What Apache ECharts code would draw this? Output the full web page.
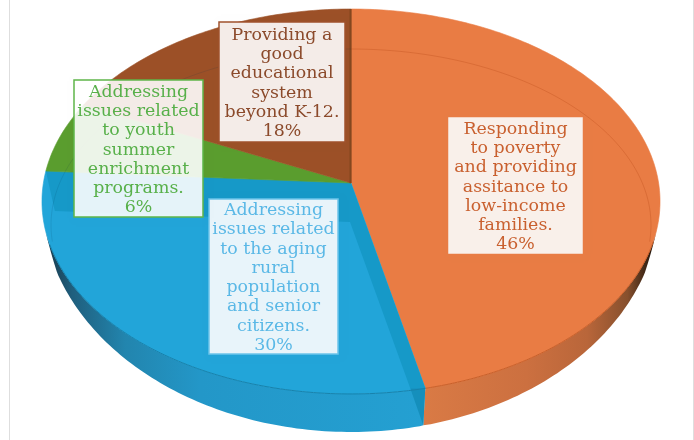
<!DOCTYPE html>
<html><head><meta charset="utf-8">
<style>html,body{margin:0;padding:0;background:#fff}#c{width:694px;height:440px}</style>
<script src="https://cdn.jsdelivr.net/npm/echarts@6/dist/echarts.min.js"></script>
</head><body><div id="c"></div>
<script>
const categories = [
  "Responding\nto poverty\nand providing\nassitance to\nlow-income\nfamilies.",
  "Addressing\nissues related\nto the aging\nrural\npopulation\nand senior\ncitizens.",
  "Addressing\nissues related\nto youth\nsummer\nenrichment\nprograms.",
  "Providing a\ngood\neducational\nsystem\nbeyond K-12."
];
const shares = [46.49, 29.51, 6, 18];

const faceColors = ['#E97C44', '#22A5D9', '#5A9D2E', '#9C5027'];
const textColors = ['#C9602F', '#5AB8E6', '#58B04A', '#8B4A2B'];
const borderColors = ['#F9F0EA', '#6CC4EA', '#5FB54A', '#A0522D'];
const boxFills = ['#F9F0EA', '#E8F4FA', 'rgba(255,255,255,0.89)', '#F4ECE8'];
const labelBoxes = [[449,118,133,135],[209,199,129,155],[74,80,129,137],[219,22,126,120]];

const G = {cx:351, ay:183, A:307.6, B:190.7, k:0.0961, cy:201.5, wall:38/192.5};
function P(t){
  const u=Math.sin(t), v=-Math.cos(t), d=1-G.k*v;
  return [G.cx+G.A*u/d, G.ay+G.B*v/d];
}
function angles(i){
  const total=shares.reduce((a,b)=>a+b,0);
  let s=0; for(let j=0;j<i;j++) s+=shares[j];
  return [s/total*2*Math.PI,(s+shares[i])/total*2*Math.PI];
}
function arc(a0,a1){
  const n=Math.max(8,Math.ceil((a1-a0)*60)), pts=[];
  for(let j=0;j<=n;j++) pts.push(P(a0+(a1-a0)*j/n));
  return pts;
}
function wallDrop(y){
  const d=y-G.cy, s=Math.max(0,Math.min(1,(d-30)/30));
  return d*G.wall*s;
}
function grad(stops,x0,x1){return new echarts.graphic.LinearGradient(x0,0,x1,0,stops,true);}
const wallFills = [
  grad([{offset:0,color:'#D97A45'},{offset:.45,color:'#CC7040'},{offset:.72,color:'#B9663A'},{offset:.9,color:'#87502D'},{offset:1,color:'#2E1D10'}],425,650),
  grad([{offset:0,color:'#1A3F52'},{offset:.06,color:'#1F5F7E'},{offset:.2,color:'#2285AE'},{offset:.4,color:'#2397C8'},{offset:1,color:'#24A0D2'}],50,425)
];

function wallItem(params){
  const i=params.dataIndex, [a0,a1]=angles(i);
  const top=arc(a0,a1).filter(p=>p[1]>=G.cy+25);
  if(top.length<2) return {type:'group',children:[]};
  const seam=P(angles(1)[0]);
  const bottom=top.map(p=>[p[0]-(p[0]===seam[0]?2:0),p[1]+wallDrop(p[1])]).reverse();
  return {type:'group',children:[{type:'polygon',shape:{points:top.concat(bottom)},style:{fill:wallFills[i]||faceColors[i]}}]};
}
function faceItem(params){
  const i=params.dataIndex, [a0,a1]=angles(i), apex=[G.cx,G.ay];
  const outer=arc(a0,a1);
  const children=[{type:'polygon',shape:{points:[apex].concat(outer)},style:{fill:faceColors[i],stroke:faceColors[i],lineWidth:.6}}];
  const front=outer.filter(p=>p[1]>=G.cy+40);
  if(i===0) children.push({type:'polyline',shape:{points:front},style:{fill:'none',stroke:'#C9602A',lineWidth:1}});
  if(i===1){
    const p1=P(a0), p2=P(a1);
    const b=p1[1]+wallDrop(p1[1]);
    children.push({type:'polygon',shape:{points:[p2,apex,p1,[p1[0]-15,p1[1]],[G.cx-1,G.ay+39],[p2[0]+9,p2[1]+40]]},style:{fill:'#1699C8'}});
    children.push({type:'polygon',shape:{points:[p1,[p1[0]-15,p1[1]],[p1[0]-2,b]]},style:{fill:'#158FBC'}});
    children.push({type:'polyline',shape:{points:front},style:{fill:'none',stroke:'#1782AC',lineWidth:1}});
  }
  if(i===3){
    const p=P(a1);
    children.push({type:'line',shape:{x1:p[0]-.5,y1:p[1],x2:G.cx-.5,y2:G.ay},style:{stroke:'#84471F',lineWidth:2}});
  }
  return {type:'group',children};
}
function ringItem(){
  const c=[351,225], a=300, b=176, left=[], right=[];
  for(let j=0;j<=120;j++){
    const t=Math.PI*.97+(Math.PI*1.06)*j/120;
    (j<=60?left:right).push([c[0]+a*Math.cos(t), c[1]+b*Math.sin(t)]);
  }
  right.unshift(left[left.length-1]);
  return {type:'group',children:[
    {type:'polyline',shape:{points:left},style:{fill:'none',stroke:'rgba(0,50,80,0.12)',lineWidth:1}},
    {type:'polyline',shape:{points:right},style:{fill:'none',stroke:'rgba(170,60,10,0.25)',lineWidth:1}}
  ]};
}
function labelItem(params,api){
  const i=params.dataIndex, [x,y,w,h]=labelBoxes[i];
  const text=categories[i]+'\n'+Math.round(api.value(0))+'%';
  return {type:'group',children:[
    {type:'rect',shape:{x,y,width:w,height:h},style:{fill:'rgba(0,0,0,0.01)',shadowBlur:6,shadowColor:'rgba(0,0,0,0.2)',shadowOffsetX:2,shadowOffsetY:1}},
    {type:'rect',shape:{x,y,width:w,height:h},style:{fill:boxFills[i],stroke:borderColors[i],lineWidth:1.5}},
    {type:'text',style:{text,x:x+w/2,y:y+h/2+1.5,align:'center',verticalAlign:'middle',textAlign:'center',textVerticalAlign:'middle',
      font:'17.4px "DejaVu Serif"',lineHeight:19.3,fill:textColors[i]}}
  ]};
}
const data=shares.map((v,i)=>[v,i]);
const chart=echarts.init(document.getElementById('c'),null,{renderer:'canvas'});
chart.setOption({
  animation:false,
  backgroundColor:'#fff',
  graphic:[
    {type:'line',shape:{x1:9.5,y1:0,x2:9.5,y2:440},style:{stroke:'#DEDEDE',lineWidth:1}},
    {type:'line',shape:{x1:693.5,y1:0,x2:693.5,y2:440},style:{stroke:'#DEDEDE',lineWidth:1}}
  ],
  series:[
    {type:'custom',coordinateSystem:'none',silent:true,z:2,data,renderItem:wallItem},
    {type:'custom',coordinateSystem:'none',silent:true,z:3,data,renderItem:faceItem},
    {type:'custom',coordinateSystem:'none',silent:true,z:4,data:[[0]],renderItem:ringItem},
    {type:'custom',coordinateSystem:'none',silent:true,z:5,data,renderItem:labelItem}
  ]
});
</script></body></html>
